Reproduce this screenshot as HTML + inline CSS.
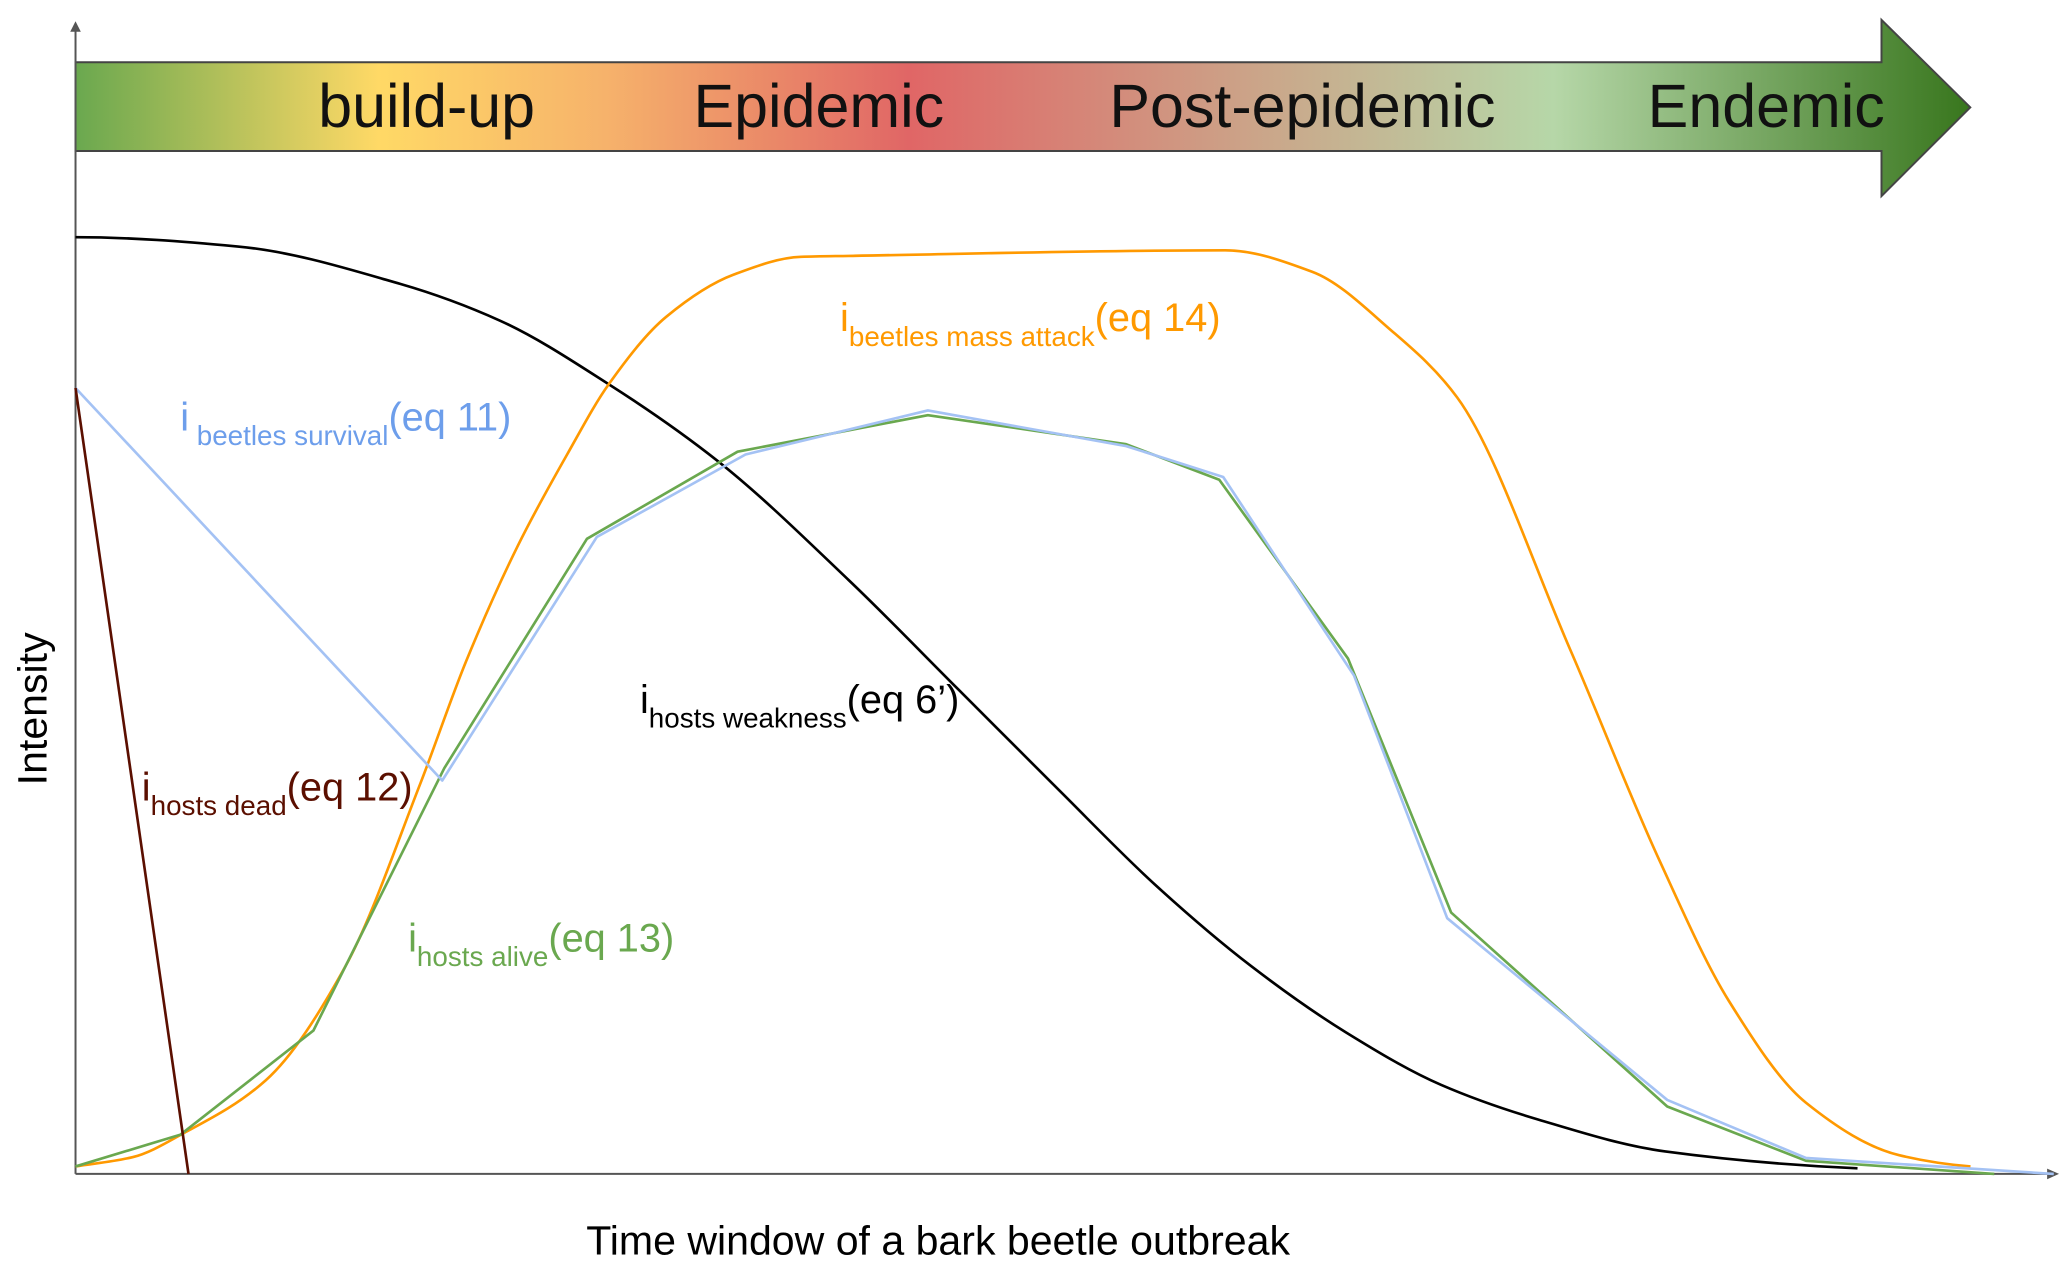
<!DOCTYPE html>
<html><head><meta charset="utf-8"><style>
html,body{margin:0;padding:0;background:#fff;}
svg{display:block;font-family:"Liberation Sans",sans-serif;}
</style></head><body>
<svg id="chart" width="2067" height="1268" viewBox="0 0 1560 957" preserveAspectRatio="none" xmlns="http://www.w3.org/2000/svg">
<defs>
<linearGradient id="phaseGrad" gradientUnits="userSpaceOnUse" x1="57" y1="0" x2="1487" y2="0">
<stop offset="0" stop-color="#6aa84f"/>
<stop offset="0.16" stop-color="#ffd966"/>
<stop offset="0.28" stop-color="#f6b26b"/>
<stop offset="0.44" stop-color="#e06666"/>
<stop offset="0.64" stop-color="#c9aa8c"/>
<stop offset="0.78" stop-color="#b6d7a8"/>
<stop offset="1" stop-color="#38761d"/>
</linearGradient>
</defs>
<g>
<polygon points="57,47 1420,47 1420,15 1487,81 1420,148 1420,114 57,114" fill="url(#phaseGrad)" stroke="#444" stroke-width="1.5"/>
<g font-size="46" fill="#111" text-anchor="middle">
<text x="322" y="96">build-up</text>
<text x="618" y="96">Epidemic</text>
<text x="983" y="96">Post-epidemic</text>
<text x="1333" y="96">Endemic</text>
</g>
</g>
<g stroke="#555" stroke-width="1.5" fill="#555">
<line x1="57" y1="886" x2="57" y2="20"/>
<polygon points="53,24 57,16 61,24" stroke="none"/>
<line x1="57" y1="886" x2="1548" y2="886"/>
<polygon points="1545,882 1554,886 1545,890" stroke="none"/>
</g>
<g id="series"></g>
<g font-size="30">
<text transform="translate(35,535) rotate(-90)" text-anchor="middle" fill="#000" font-size="31">Intensity</text>
<text x="708" y="947" text-anchor="middle" fill="#000" font-size="31">Time window of a bark beetle outbreak</text>
<text x="136" y="325" fill="#6d9eeb">i<tspan font-size="21" dy="11"> beetles survival</tspan><tspan dy="-11">(eq 11)</tspan></text>
<text x="483" y="538" fill="#000">i<tspan font-size="21" dy="11">hosts weakness</tspan><tspan dy="-11">(eq 6’)</tspan></text>
<text x="107" y="604" fill="#5b0f00">i<tspan font-size="21" dy="11">hosts dead</tspan><tspan dy="-11">(eq 12)</tspan></text>
<text x="308" y="718" fill="#6aa84f">i<tspan font-size="21" dy="11">hosts alive</tspan><tspan dy="-11">(eq 13)</tspan></text>
<text x="634" y="250" fill="#ff9900">i<tspan font-size="21" dy="11">beetles mass attack</tspan><tspan dy="-11">(eq 14)</tspan></text>
</g>
</svg>
<script>
const weaknessX = [0,8.2,16.4,21.4,26.9,32.4,39.0,44.5,49.6,54.5,59.3,64.1,68.9,73.8,80.2,89.9];
const weaknessY = [100,99.0,95.0,91.1,84.3,76.1,63.4,51.8,41.0,30.8,22.2,15.1,9.5,5.8,2.4,0.6];
const massX = [0,2.9,5.5,9.6,13.6,17.4,19.7,22.3,24.8,26.9,29.8,33.2,36.6,39.0,58.0,62.4,66.4,69.7,75.4,79.9,83.4,87.3,92.0,95.6];
const massY = [0.8,1.8,4.4,10.0,22.1,41.7,54.7,67.0,76.8,84.3,91.5,96.0,97.9,98.0,98.6,96.3,90.0,82.9,56.0,33.5,18.5,7.6,2.0,0.8];
const aliveX = [0,5.3,12.0,18.6,25.8,33.4,43.0,53.0,57.7,64.2,69.4,80.3,87.3,96.8];
const aliveY = [0.8,4.2,15.3,43.3,67.8,77.1,81.0,77.9,74.1,55.0,27.9,7.2,1.4,0];
const survivalX = [0,18.5,26.3,33.8,43.0,53.0,57.9,64.5,69.2,80.3,87.3,99.8];
const survivalY = [83.9,42.0,68.0,76.8,81.5,77.7,74.4,53.2,27.3,7.9,1.7,0];
const deadX = [0,5.7];
const deadY = [83.9,0];

const sx = v => 57 + v * 14.96;
const sy = v => 886 - v * 7.07;
const NS = "http://www.w3.org/2000/svg";
const g = document.getElementById('series');

function polyD(xs, ys){
  return xs.map((x,i)=>(i?'L':'M')+sx(x).toFixed(2)+','+sy(ys[i]).toFixed(2)).join(' ');
}
// monotone cubic (Fritsch-Carlson) in data space
function smoothD(xs, ys, flatStart){
  const n = xs.length, d = [], m = [];
  for(let i=0;i<n-1;i++) d.push((ys[i+1]-ys[i])/(xs[i+1]-xs[i]));
  m[0]=flatStart?0:d[0]; m[n-1]=d[n-2]*0.5;
  for(let i=1;i<n-1;i++){
    if(d[i-1]*d[i]<=0) m[i]=0;
    else { const w1=2*(xs[i+1]-xs[i])+(xs[i]-xs[i-1]), w2=(xs[i+1]-xs[i])+2*(xs[i]-xs[i-1]);
      m[i]=(w1+w2)/(w1/d[i-1]+w2/d[i]); }
  }
  let path = 'M'+sx(xs[0]).toFixed(2)+','+sy(ys[0]).toFixed(2);
  for(let i=0;i<n-1;i++){
    const h=xs[i+1]-xs[i];
    const x1=xs[i]+h/3, y1=ys[i]+m[i]*h/3, x2=xs[i+1]-h/3, y2=ys[i+1]-m[i+1]*h/3;
    path += ' C'+sx(x1).toFixed(2)+','+sy(y1).toFixed(2)+' '+sx(x2).toFixed(2)+','+sy(y2).toFixed(2)+' '+sx(xs[i+1]).toFixed(2)+','+sy(ys[i+1]).toFixed(2);
  }
  return path;
}
function addPath(d, color, w){
  const el = document.createElementNS(NS,'path');
  el.setAttribute('d', d);
  el.setAttribute('fill','none');
  el.setAttribute('stroke',color);
  el.setAttribute('stroke-width',w);
  el.setAttribute('stroke-linejoin','round');
  g.appendChild(el);
  return el;
}
let e;
e = addPath(smoothD(weaknessX, weaknessY, true), '#000', 2);


e = addPath(smoothD(massX, massY, false), '#ff9900', 2);


e = addPath(polyD(aliveX, aliveY), '#6aa84f', 2);


e = addPath(polyD(survivalX, survivalY), '#a4c2f4', 2);


e = addPath(polyD(deadX, deadY), '#5b0f00', 2);


</script>
</body></html>
